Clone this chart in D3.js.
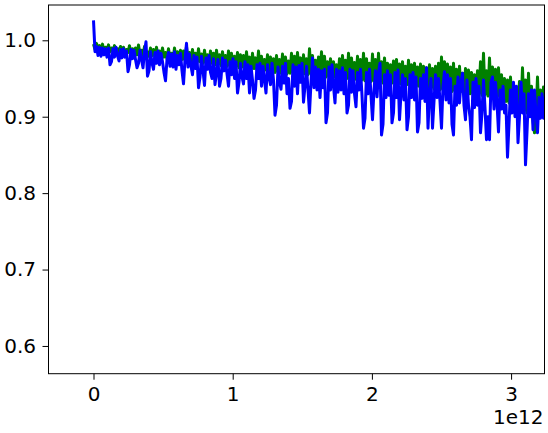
<!DOCTYPE html>
<html><head><meta charset="utf-8">
<script src="https://cdn.jsdelivr.net/npm/d3@7"></script>
<style>body{margin:0;background:#fff}svg{display:block}</style>
</head><body>
<svg id="c" width="548" height="433"></svg>
<script>
const xStart = 0;
const xStep = 0.010776e12;
const yTicks = [0.6, 0.7, 0.8, 0.9, 1.0];
const yTickLabels = ["0.6", "0.7", "0.8", "0.9", "1.0"];
const xTicks = [0, 1e12, 2e12, 3e12];
const xTickLabels = ["0", "1", "2", "3"];
const offsetLabel = "1e12";

const greenSeries = [
 0.995,0.988,0.996,0.987,0.993,0.988,0.995,0.986,0.991,0.987,0.994,0.985,0.990,0.986,0.993,0.985,0.989,0.984,0.992,0.985,
 0.991,0.983,0.988,0.984,0.993,0.982,0.989,0.983,0.990,0.981,0.994,0.982,0.987,0.980,0.992,0.981,0.985,0.979,0.990,0.980,
 0.988,0.978,0.991,0.979,0.986,0.977,0.990,0.978,0.984,0.976,0.989,0.977,0.983,0.975,0.990,0.976,0.985,0.974,0.987,0.975,
 0.986,0.974,0.992,0.973,0.984,0.972,0.988,0.973,0.983,0.971,0.989,0.972,0.982,0.970,0.987,0.971,0.981,0.969,0.986,0.970,
 0.983,0.968,0.987,0.969,0.981,0.967,0.985,0.968,0.980,0.966,0.986,0.967,0.983,0.965,0.979,0.966,0.984,0.964,0.981,0.965,
 0.980,0.963,0.985,0.964,0.978,0.962,0.983,0.963,0.977,0.961,0.986,0.962,0.979,0.960,0.975,0.961,0.981,0.959,0.978,0.960,
 0.976,0.958,0.980,0.959,0.975,0.957,0.982,0.958,0.978,0.956,0.973,0.957,0.983,0.958,0.979,0.956,0.984,0.957,0.977,0.955,
 0.981,0.956,0.976,0.955,0.989,0.956,0.980,0.954,0.974,0.955,0.978,0.953,0.985,0.954,0.979,0.952,0.972,0.953,0.976,0.951,
 0.972,0.952,0.968,0.950,0.976,0.951,0.980,0.949,0.974,0.950,0.983,0.949,0.977,0.948,0.971,0.949,0.979,0.947,0.975,0.948,
 0.983,0.947,0.976,0.948,0.970,0.946,0.982,0.947,0.975,0.945,0.983,0.946,0.972,0.944,0.977,0.945,0.970,0.943,0.968,0.944,
 0.973,0.943,0.975,0.942,0.969,0.943,0.972,0.941,0.966,0.942,0.974,0.940,0.968,0.941,0.970,0.939,0.965,0.940,0.969,0.938,
 0.966,0.939,0.964,0.937,0.968,0.938,0.963,0.936,0.966,0.937,0.970,0.935,0.978,0.936,0.972,0.934,0.969,0.935,0.965,0.933,
 0.970,0.934,0.962,0.932,0.966,0.933,0.957,0.931,0.963,0.932,0.961,0.930,0.958,0.931,0.955,0.929,0.960,0.930,0.972,0.928,
 0.983,0.929,0.960,0.927,0.977,0.928,0.965,0.926,0.962,0.927,0.964,0.925,0.955,0.922,0.950,0.920,0.948,0.918,0.952,0.915,
 0.944,0.912,0.905,0.918,0.946,0.910,0.964,0.908,0.948,0.905,0.957,0.900,0.940,0.895,0.879,0.900,0.952,0.898,0.935,0.900,0.939,0.910,0.930
];
const blueSeries = [
 1.026,0.985,0.992,0.980,0.991,0.979,0.990,0.981,0.989,0.978,
 0.990,0.968,0.972,0.989,0.978,0.991,0.980,0.973,0.988,0.977,
 0.989,0.978,0.986,0.959,0.968,0.988,0.976,0.987,0.975,0.964,
 0.970,0.987,0.975,0.964,0.985,0.998,0.953,0.960,0.985,0.970,
 0.962,0.984,0.970,0.986,0.968,0.983,0.972,0.958,0.947,0.975,
 0.984,0.966,0.982,0.965,0.985,0.962,0.980,0.968,0.983,0.960,
 0.943,0.975,0.996,0.965,0.982,0.966,0.955,0.980,0.963,0.978,
 0.938,0.952,0.979,0.960,0.941,0.977,0.962,0.980,0.958,0.950,
 0.976,0.942,0.958,0.975,0.940,0.950,0.977,0.960,0.974,0.956,
 0.940,0.972,0.955,0.976,0.950,0.972,0.931,0.945,0.970,0.952,
 0.943,0.972,0.950,0.968,0.931,0.966,0.948,0.924,0.935,0.968,
 0.950,0.970,0.940,0.966,0.948,0.931,0.968,0.952,0.942,0.970,
 0.948,0.902,0.915,0.965,0.945,0.936,0.966,0.944,0.970,0.930,
 0.950,0.911,0.920,0.968,0.940,0.965,0.930,0.967,0.945,0.970,
 0.919,0.940,0.966,0.935,0.905,0.945,0.977,0.938,0.965,0.935,
 0.962,0.925,0.960,0.938,0.962,0.892,0.905,0.965,0.935,0.968,
 0.940,0.918,0.962,0.932,0.960,0.935,0.964,0.930,0.958,0.905,
 0.915,0.962,0.932,0.960,0.930,0.913,0.958,0.935,0.962,0.928,
 0.885,0.898,0.958,0.930,0.962,0.928,0.896,0.935,0.960,0.926,
 0.958,0.970,0.876,0.890,0.955,0.925,0.960,0.928,0.955,0.892,
 0.905,0.958,0.925,0.961,0.896,0.930,0.955,0.922,0.950,0.883,
 0.900,0.955,0.925,0.958,0.922,0.952,0.880,0.892,0.950,0.924,
 0.955,0.920,0.964,0.885,0.930,0.950,0.885,0.920,0.955,0.925,
 0.950,0.920,0.885,0.940,0.959,0.922,0.955,0.918,0.950,0.890,
 0.876,0.940,0.915,0.952,0.918,0.945,0.957,0.915,0.896,0.948,
 0.915,0.900,0.870,0.945,0.912,0.950,0.915,0.940,0.879,0.905,
 0.948,0.912,0.870,0.900,0.870,0.945,0.952,0.910,0.945,0.918,
 0.880,0.935,0.910,0.940,0.905,0.915,0.847,0.890,0.935,0.905,
 0.945,0.900,0.940,0.866,0.900,0.945,0.905,0.930,0.837,0.880,
 0.930,0.900,0.935,0.883,0.935,0.905,0.879,0.925,0.898,0.930,
 0.898,0.925,0.915
];

const svg = d3.select("#c");
const L = 48.5, R = 544.5, T = 5, B = 373.7;
const x = d3.scaleLinear().domain([-0.3233e12, 3.24e12]).range([L, R]);
const y = d3.scaleLinear().domain([0.5637, 1.0462]).range([B, T]);
const font = "DejaVu Sans, sans-serif";
const fs = "20px";

svg.append("defs").append("clipPath").attr("id", "clip")
  .append("rect").attr("x", L).attr("y", T).attr("width", R - L).attr("height", B - T);

const line = d3.line().x((d, i) => x(xStart + i * xStep)).y(d => y(d));
const g = svg.append("g").attr("clip-path", "url(#clip)");
g.append("path").datum(greenSeries).attr("d", line)
  .attr("fill", "none").attr("stroke", "#008000").attr("stroke-width", 3)
  .attr("stroke-linejoin", "round").attr("stroke-linecap", "butt");
g.append("path").datum(blueSeries).attr("d", line)
  .attr("fill", "none").attr("stroke", "#0000ff").attr("stroke-width", 3)
  .attr("stroke-linejoin", "round").attr("stroke-linecap", "butt");

// axes
const yAxis = d3.axisLeft(y).tickValues(yTicks).tickSize(6).tickPadding(6.5)
  .tickFormat((d, i) => yTickLabels[i]);
const xAxis = d3.axisBottom(x).tickValues(xTicks).tickSize(6).tickPadding(7)
  .tickFormat((d, i) => xTickLabels[i]);
const ya = svg.append("g").attr("transform", `translate(${L},0)`).call(yAxis);
const xa = svg.append("g").attr("transform", `translate(0,${B})`).call(xAxis);
[ya, xa].forEach(a => {
  a.select(".domain").remove();
  a.selectAll("line").attr("stroke", "#000").attr("stroke-width", 1);
  a.selectAll("text").attr("fill", "#000").style("font-family", font).style("font-size", fs);
});

// spines
svg.append("rect").attr("x", L).attr("y", T).attr("width", R - L).attr("height", B - T)
  .attr("fill", "none").attr("stroke", "#000").attr("stroke-width", 1);

svg.append("text").attr("x", 543.5).attr("y", 423.5).attr("text-anchor", "end")
  .style("font-family", font).style("font-size", fs).attr("fill", "#000").text(offsetLabel);
</script>
</body></html>
